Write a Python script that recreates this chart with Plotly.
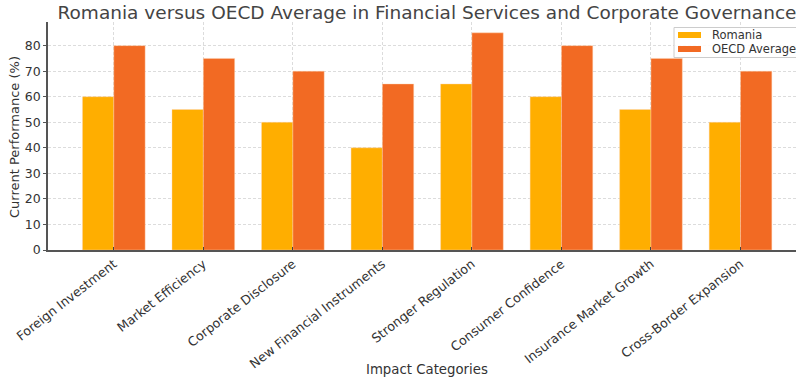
import plotly.graph_objects as go

categories = ["Foreign Investment", "Market Efficiency", "Corporate Disclosure",
              "New Financial Instruments", "Stronger Regulation", "Consumer Confidence",
              "Insurance Market Growth", "Cross-Border Expansion"]
romania = [60, 55, 50, 40, 65, 60, 55, 50]
oecd = [80, 75, 70, 65, 85, 80, 75, 70]
yticks = [0, 10, 20, 30, 40, 50, 60, 70, 80]
series_names = ["Romania", "OECD Average"]
series_colors = ["#FFAE00", "#F26A23"]

xs = list(range(len(categories)))
font = "DejaVu Sans"

# plot area in pixels
L, R, T, B = 48, 796, 22, 250
W, H = R - L, B - T


def px(xp):
    return (xp - L) / W


def py(yp):
    return (B - yp) / H


fig = go.Figure()
for name, vals, col in zip(series_names, [romania, oecd], series_colors):
    fig.add_trace(go.Bar(x=xs, y=vals, name=name, marker_color=col,
                         marker_line=dict(color="rgba(255,215,180,0.7)", width=0.6)))

fig.update_layout(
    width=796, height=380,
    margin=dict(l=L, r=796 - R, t=T, b=380 - B),
    barmode="group", bargap=0.3, bargroupgap=0,
    plot_bgcolor="white", paper_bgcolor="white",
    font=dict(family=font, color="#333", size=12),
    title=dict(text="Romania versus OECD Average in Financial Services and Corporate Governance",
               x=427 / 796, xref="container", xanchor="center",
               y=1 - 12.5 / 380, yanchor="middle", yref="container",
               font=dict(size=18.5, color="#444", family=font)),
    showlegend=False,
)
fig.update_xaxes(
    tickmode="array", tickvals=xs, ticktext=categories, tickangle=-38,
    range=[-0.735, 7.62], showline=True, linecolor="#555", linewidth=1.5,
    showgrid=True, gridcolor="#dcdcdc", griddash="3px,2px", gridwidth=0.8,
    ticks="inside", ticklen=3, tickcolor="#444", tickfont=dict(size=12.7, color="#333"),
    zeroline=False,
)
fig.update_yaxes(
    tickmode="array", tickvals=yticks, range=[0, 89.25],
    showline=True, linecolor="#555", linewidth=1.5,
    showgrid=True, gridcolor="#dcdcdc", griddash="3px,2px", gridwidth=0.8,
    ticks="outside", ticklen=3, tickcolor="#555", tickfont=dict(size=12.5, color="#333"),
    zeroline=False,
)
fig.add_annotation(text="Impact Categories", xref="paper", yref="paper",
                   x=px(427), y=py(370), xanchor="center", yanchor="middle",
                   showarrow=False, font=dict(size=13.3, color="#333"))
fig.add_annotation(text="Current Performance (%)", xref="paper", yref="paper",
                   x=px(14), y=py(137), xanchor="center", yanchor="middle", textangle=-90,
                   showarrow=False, font=dict(size=13, color="#333"))

# legend (box, swatches, labels)
fig.add_shape(type="rect", xref="paper", yref="paper",
              x0=px(674), x1=px(800), y0=py(57.5), y1=py(27.5),
              line=dict(color="#cccccc", width=1), fillcolor="rgba(255,255,255,0.85)",
              layer="above")
for i, (name, col) in enumerate(zip(series_names, series_colors)):
    cy = 35 + i * 14
    fig.add_shape(type="rect", xref="paper", yref="paper",
                  x0=px(678), x1=px(701), y0=py(cy + 3), y1=py(cy - 3),
                  line=dict(width=0), fillcolor=col, layer="above")
    fig.add_annotation(text=name, xref="paper", yref="paper",
                       x=px(710), y=py(cy), xanchor="left", yanchor="middle",
                       showarrow=False, font=dict(size=11.5, color="#333"))

fig.write_html("out.html")
